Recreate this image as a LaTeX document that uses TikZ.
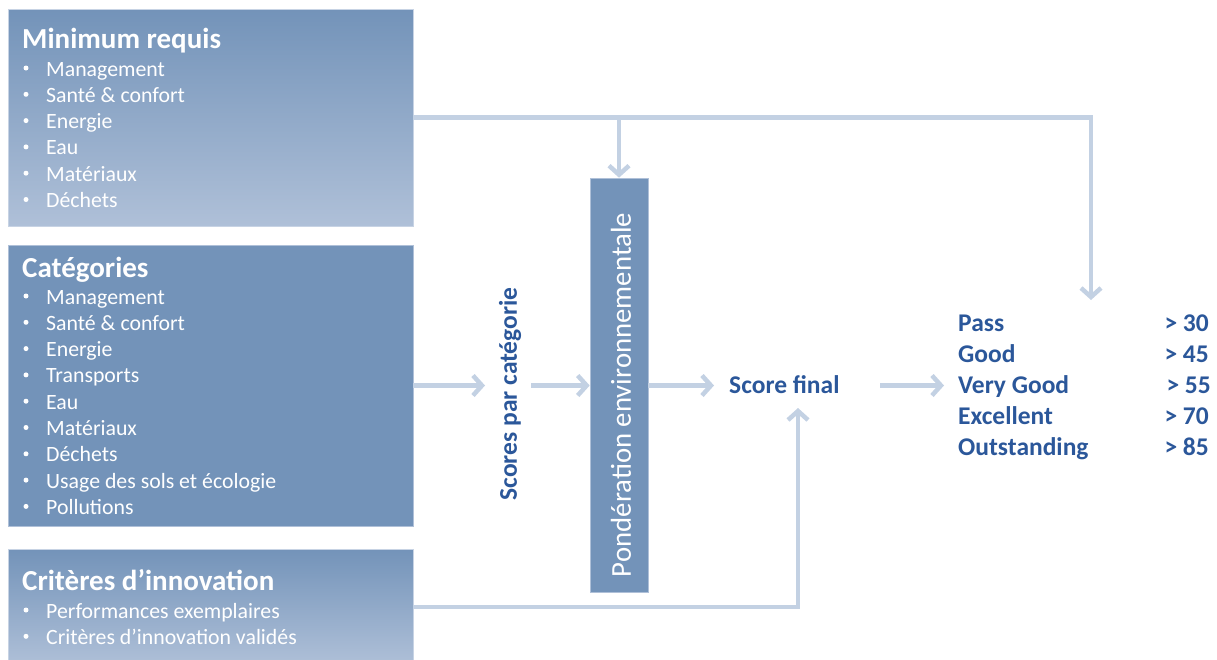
\documentclass[tikz,border=0pt]{standalone}
\usepackage{fontspec}
\setmainfont{Carlito}
\usetikzlibrary{arrows.meta}
\definecolor{boxblue}{HTML}{7393B9}
\definecolor{boxlight}{HTML}{AFC0D8}
\definecolor{connc}{HTML}{C3D1E3}
\definecolor{darkt}{HTML}{2B579A}
\tikzset{
 gbox/.style={rectangle, inner sep=0, top color=boxblue, bottom color=boxlight, draw=boxlight!70!white, line width=0.6pt},
 sbox/.style={rectangle, inner sep=0, fill=boxblue, draw=boxlight, line width=0.6pt},
 ttl/.style={anchor=base west, inner sep=0, text=white, font=\fontsize{29}{34}\selectfont\bfseries},
 itm/.style={anchor=base west, inner sep=0, text=white, font=\fontsize{21.8}{26}\selectfont},
 blt/.style={circle, inner sep=0, fill=white, minimum size=5pt},
 lnk/.style={draw=connc, line width=4.5pt, -{Straight Barb[length=9pt,width=20pt]}},
 lbl/.style={inner sep=0, text=darkt, font=\fontsize{25.5}{30}\selectfont\bfseries},
 rname/.style={lbl, anchor=base west},
 rval/.style={lbl, anchor=base east},
}
\begin{document}
\begin{tikzpicture}[x=1pt,y=-1pt]
\useasboundingbox (0,0) rectangle (1217,659);
% boxes
\node[gbox, minimum width=405pt, minimum height=217pt] (b1) at (210.5,117.5) {};
\node[sbox, minimum width=405pt, minimum height=281pt] (b2) at (210.5,385.5) {};
\node[gbox, minimum width=405pt, minimum height=116pt] (b3) at (210.5,607) {};
\node[sbox, minimum width=58pt, minimum height=414pt] (pw) at (619,385) {};
% box texts
\node[ttl] (b1t) at (22,48) {Minimum requis};
\foreach \t [count=\i from 0] in {Management, Santé \& confort, Energie, Eau, Matériaux, Déchets} {
  \node[blt] (b1b\i) at (26,68+26.3*\i) {};
  \node[itm] (b1i\i) at (46,76+26.3*\i) {\t};
}
\node[ttl] (b2t) at (22,277) {Catégories};
\foreach \t [count=\i from 0] in {Management, Santé \& confort, Energie, Transports, Eau, Matériaux, Déchets, Usage des sols et écologie, Pollutions} {
  \node[blt] (b2b\i) at (26,296+26.3*\i) {};
  \node[itm] (b2i\i) at (46,304+26.3*\i) {\t};
}
\node[ttl] (b3t) at (22,590) {Critères d’innovation};
\foreach \t [count=\i from 0] in {Performances exemplaires, Critères d’innovation validés} {
  \node[blt] (b3b\i) at (26,610+26.3*\i) {};
  \node[itm] (b3i\i) at (46,618+26.3*\i) {\t};
}
% middle texts
\node[rotate=90, inner sep=0, text=white, font=\fontsize{28.8}{32}\selectfont] (pwt) at (621,395) {Pondération environnementale};
\node[lbl, rotate=90] (sc) at (510,394) {Scores par catégorie};
\node[rname] (sf) at (729,393) {Score final};
% ratings
\node[rname] (r1) at (958,331) {Pass};
\node[rname] (r2) at (958,362) {Good};
\node[rname] (r3) at (958,393) {Very Good};
\node[rname] (r4) at (958,424) {Excellent};
\node[rname] (r5) at (958,455) {Outstanding};
\node[rval] (v1) at (1209,331) {> 30};
\node[rval] (v2) at (1209,362) {> 45};
\node[rval] (v3) at (1211,393) {> 55};
\node[rval] (v4) at (1209,424) {> 70};
\node[rval] (v5) at (1209,455) {> 85};
% connectors
\coordinate (tr) at (1091,300);
\coordinate (fb) at (798,408);
\coordinate (a1) at (485,385.5);
\coordinate (a2s) at (531,385.5);
\coordinate (a3) at (714,385.5);
\coordinate (a4s) at (880,385.5);
\coordinate (a4) at (944,385.5);
\draw[lnk] (b1.east) -| (tr);
\draw[lnk] (b1.east -| pw.north) -- (pw.north);
\draw[lnk] (b2.east) -- (a1);
\draw[lnk] (a2s) -- (pw.west |- a2s);
\draw[lnk] (pw.east |- a3) -- (a3);
\draw[lnk] (a4s) -- (a4);
\draw[lnk] (b3.east) -| (fb);
\end{tikzpicture}
\end{document}
